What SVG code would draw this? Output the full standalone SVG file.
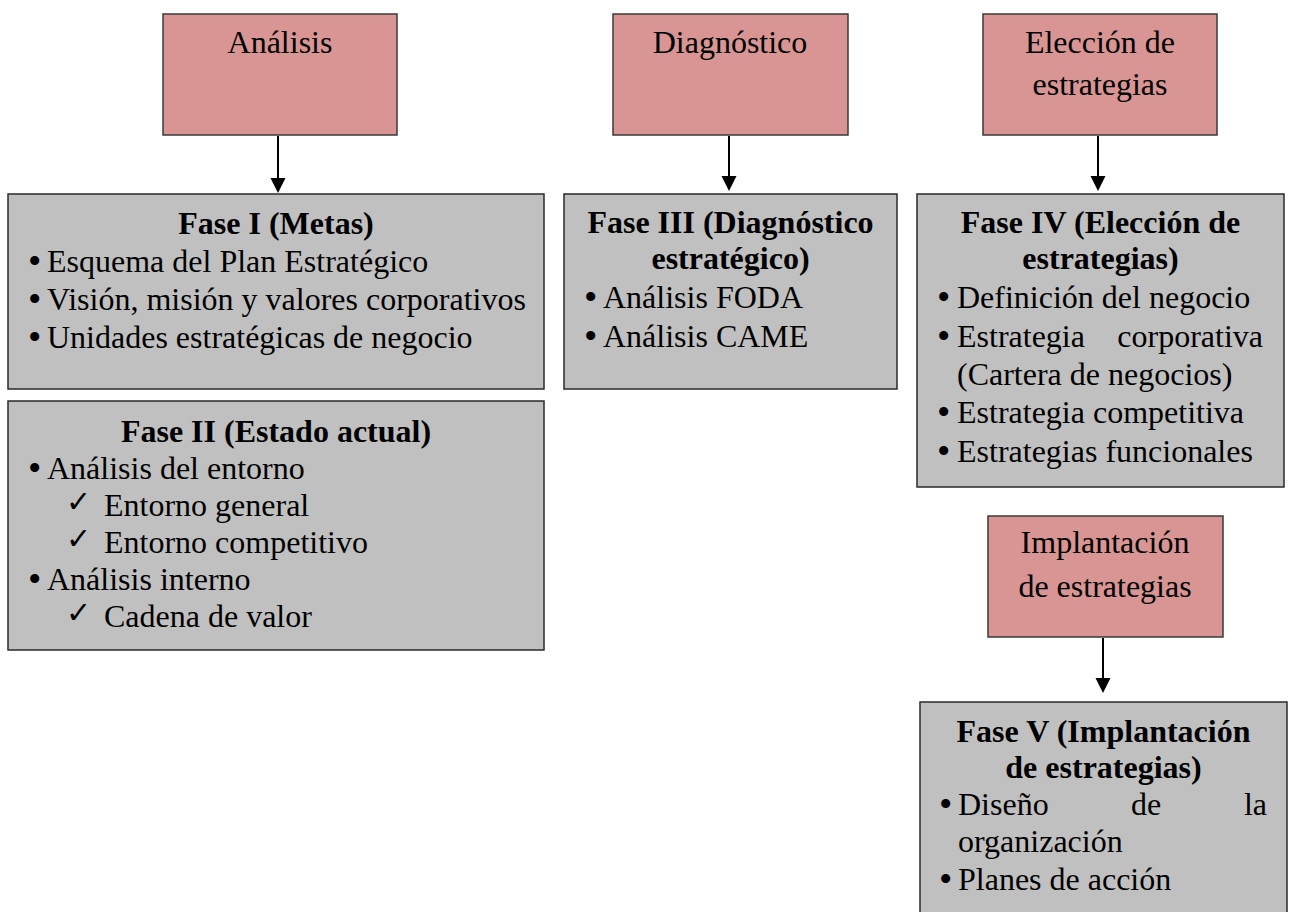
<svg xmlns="http://www.w3.org/2000/svg" width="1292" height="912" viewBox="0 0 1292 912">
<defs>
<style>
.pink{fill:#D99594;stroke:#3a3a3a;stroke-width:1.5}
.gray{fill:#C0C0C0;stroke:#2a2a2a;stroke-width:1.5}
text{font-family:"Liberation Serif","Times New Roman",serif;font-size:32px;fill:#000}
.c{text-anchor:middle}
.b{font-weight:bold}
.e{text-anchor:end}
.bul{font-size:38px}
.chk{font-family:"DejaVu Sans",sans-serif;font-size:30px}
.con{stroke:#000;stroke-width:2;fill:none}
</style>
</defs>
<rect width="1292" height="912" fill="#fff"/>
<g id="connectors">
<line class="con" x1="278" y1="136" x2="278" y2="180"/>
<path d="M270.5,178 L285.5,178 L278,193 Z" fill="#000"/>
<line class="con" x1="729" y1="136" x2="729" y2="178"/>
<path d="M721.5,176 L736.5,176 L729,191 Z" fill="#000"/>
<line class="con" x1="1098" y1="136" x2="1098" y2="178"/>
<path d="M1090.5,176 L1105.5,176 L1098,191 Z" fill="#000"/>
<line class="con" x1="1103" y1="638" x2="1103" y2="680"/>
<path d="M1095.5,678 L1110.5,678 L1103,693 Z" fill="#000"/>
</g>
<g id="analisis">
<rect class="pink" x="163" y="14" width="234" height="121"/>
<text class="c" x="280" y="53">Análisis</text>
</g>
<g id="diagnostico">
<rect class="pink" x="613" y="14" width="235" height="121"/>
<text class="c" x="730" y="53">Diagnóstico</text>
</g>
<g id="eleccion">
<rect class="pink" x="983" y="14" width="234" height="121"/>
<text class="c" x="1100" y="53">Elección de</text>
<text class="c" x="1100" y="95">estrategias</text>
</g>
<g id="implantacion">
<rect class="pink" x="988" y="516" width="235" height="121"/>
<text class="c" x="1105" y="553">Implantación</text>
<text class="c" x="1105" y="597">de estrategias</text>
</g>
<g id="fase1">
<rect class="gray" x="8" y="194" width="536" height="195"/>
<text class="c b" x="276" y="234">Fase I (Metas)</text>
<text class="bul" x="28" y="274">•</text><text x="47" y="272">Esquema del Plan Estratégico</text>
<text class="bul" x="28" y="312">•</text><text x="47" y="310">Visión, misión y valores corporativos</text>
<text class="bul" x="28" y="350">•</text><text x="47" y="348">Unidades estratégicas de negocio</text>
</g>
<g id="fase2">
<rect class="gray" x="8" y="401" width="536" height="249"/>
<text class="c b" x="276" y="442">Fase II (Estado actual)</text>
<text class="bul" x="28" y="481">•</text><text x="47" y="479">Análisis del entorno</text>
<text class="chk" x="66" y="512">✓</text><text x="104" y="516">Entorno general</text>
<text class="chk" x="66" y="549">✓</text><text x="104" y="553">Entorno competitivo</text>
<text class="bul" x="28" y="592">•</text><text x="47" y="590">Análisis interno</text>
<text class="chk" x="66" y="623">✓</text><text x="104" y="627">Cadena de valor</text>
</g>
<g id="fase3">
<rect class="gray" x="564" y="194" width="333" height="195"/>
<text class="c b" x="730.5" y="233">Fase III (Diagnóstico</text>
<text class="c b" x="730.5" y="269">estratégico)</text>
<text class="bul" x="584" y="310">•</text><text x="603" y="308">Análisis FODA</text>
<text class="bul" x="584" y="349">•</text><text x="603" y="347">Análisis CAME</text>
</g>
<g id="fase4">
<rect class="gray" x="917" y="194" width="367" height="293"/>
<text class="c b" x="1100.5" y="233">Fase IV (Elección de</text>
<text class="c b" x="1100.5" y="269">estrategias)</text>
<text class="bul" x="937" y="310">•</text><text x="957" y="308">Definición del negocio</text>
<text class="bul" x="937" y="349">•</text><text x="957" y="347">Estrategia</text><text class="e" x="1263" y="347">corporativa</text>
<text x="957" y="385">(Cartera de negocios)</text>
<text class="bul" x="937" y="425">•</text><text x="957" y="423">Estrategia competitiva</text>
<text class="bul" x="937" y="464">•</text><text x="957" y="462">Estrategias funcionales</text>
</g>
<g id="fase5">
<rect class="gray" x="920" y="702" width="367" height="230"/>
<text class="c b" x="1103.5" y="742">Fase V (Implantación</text>
<text class="c b" x="1103.5" y="778">de estrategias)</text>
<text class="bul" x="939" y="817">•</text><text x="958" y="815">Diseño</text><text class="c" x="1146" y="815">de</text><text class="e" x="1267" y="815">la</text>
<text x="958" y="852">organización</text>
<text class="bul" x="939" y="892">•</text><text x="958" y="890">Planes de acción</text>
</g>
</svg>
